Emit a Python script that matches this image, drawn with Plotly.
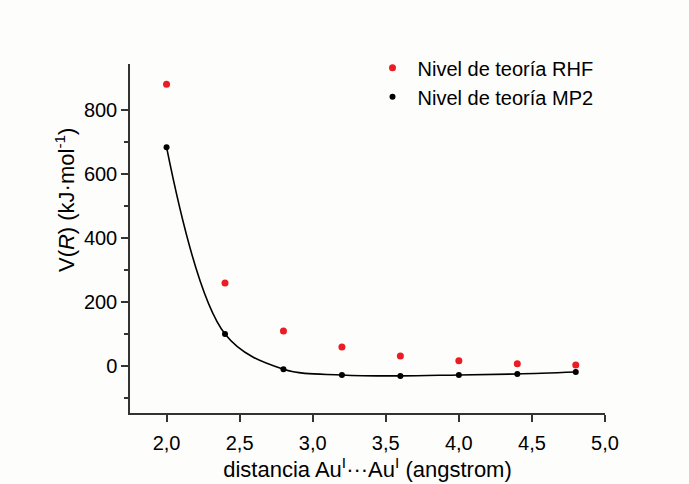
import plotly.graph_objects as go

dist = [2.0, 2.4, 2.8, 3.2, 3.6, 4.0, 4.4, 4.8]
v_rhf = [881, 259, 109, 59, 31, 16, 7, 3]
v_mp2 = [684, 100, -10, -28, -31, -28, -25, -19]

FONT = "Liberation Sans, Arial, sans-serif"

fig = go.Figure()
fig.add_trace(go.Scatter(
    x=dist, y=v_mp2, mode="lines", line=dict(color="black", width=1.6, shape="spline", smoothing=1.0),
    showlegend=False, hoverinfo="skip"))
fig.add_trace(go.Scatter(
    x=dist, y=v_rhf, mode="markers", name="Nivel de teoría RHF",
    marker=dict(color="#ec1c24", size=7)))
fig.add_trace(go.Scatter(
    x=dist, y=v_mp2, mode="markers", name="Nivel de teoría MP2",
    marker=dict(color="black", size=6)))

fig.update_layout(
    width=689, height=484,
    margin=dict(l=130, r=84, t=64, b=71),
    paper_bgcolor="#fdfdfb", plot_bgcolor="#fdfdfb",
    font=dict(family=FONT, size=20, color="black"),
    legend=dict(x=0.5, y=1.045, xanchor="left", yanchor="top", bgcolor="rgba(0,0,0,0)",
                font=dict(size=20), itemsizing="trace", tracegroupgap=0, itemwidth=40),
    xaxis=dict(
        range=[1.75, 5.0], tickvals=[2.0, 2.5, 3.0, 3.5, 4.0, 4.5, 5.0],
        ticktext=["2,0", "2,5", "3,0", "3,5", "4,0", "4,5", "5,0"],
        showline=True, linecolor="#333", linewidth=1.5, ticks="outside", ticklen=7,
        tickwidth=1.5, tickcolor="#333", showgrid=False, zeroline=False,
        tickfont=dict(size=20), ticklabelstandoff=4,
        title=dict(text="distancia Au<sup>I</sup>···Au<sup>I</sup> (angstrom)", standoff=2,
                   font=dict(size=22)),
    ),
    yaxis=dict(
        range=[-147, 944], tickvals=[0, 200, 400, 600, 800],
        showline=True, linecolor="#333", linewidth=1.5, ticks="outside", ticklen=7,
        tickwidth=1.5, tickcolor="#333", showgrid=False, zeroline=False,
        tickfont=dict(size=20),
        minor=dict(tickvals=[-100, 100, 300, 500, 700], ticks="outside", ticklen=4,
                   tickwidth=1.5, tickcolor="#333"),
    ),
    annotations=[dict(
        text="V(<i>R</i>) (kJ·mol<sup>-1</sup>)", textangle=-90, showarrow=False,
        xref="paper", yref="paper", x=-0.137, y=0.61, xanchor="center", yanchor="middle",
        font=dict(size=22, family=FONT, color="black"))],
)

fig.write_html("out.html")
